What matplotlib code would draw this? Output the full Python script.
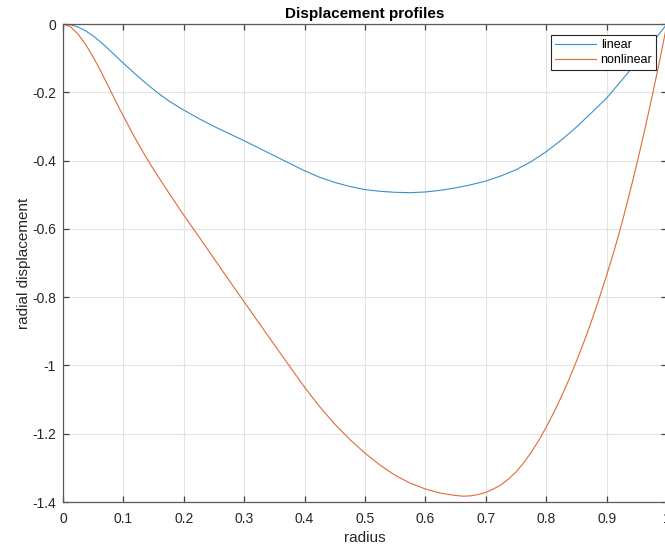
import numpy as np
import matplotlib
matplotlib.use("Agg")
import matplotlib.pyplot as plt

plt.rcParams['font.family'] = ['Liberation Sans', 'DejaVu Sans']

# radial positions (finer spacing where the profiles bend)
radius_lin = np.array([0.0, 0.0125, 0.025, 0.0375, 0.05, 0.0625, 0.075, 0.0875, 0.1, 0.1125,
                       0.125, 0.1375, 0.15, 0.1625, 0.175, 0.1875, 0.2, 0.225, 0.25, 0.275,
                       0.3, 0.325, 0.35, 0.375, 0.4, 0.425, 0.45, 0.475, 0.5, 0.525,
                       0.55, 0.575, 0.6, 0.625, 0.65, 0.675, 0.7, 0.725, 0.75, 0.775,
                       0.8, 0.825, 0.85, 0.875, 0.9, 0.925, 0.95, 0.975, 1.0])

disp_linear = np.array([0.0, -0.002, -0.009, -0.020, -0.035, -0.053, -0.073, -0.094, -0.115, -0.135,
                        -0.155, -0.174, -0.192, -0.209, -0.225, -0.239, -0.252, -0.277, -0.300, -0.321,
                        -0.342, -0.364, -0.386, -0.408, -0.430, -0.449, -0.464, -0.476, -0.485, -0.490,
                        -0.493, -0.494, -0.492, -0.487, -0.480, -0.471, -0.460, -0.445, -0.427, -0.403,
                        -0.374, -0.340, -0.302, -0.260, -0.217, -0.165, -0.111, -0.056, 0.0])

radius_nl = np.array([0.0, 0.0125, 0.025, 0.0375, 0.05, 0.0625, 0.075, 0.0875, 0.1, 0.1125,
                      0.125, 0.1375, 0.15, 0.1625, 0.175, 0.1875, 0.2, 0.225, 0.25, 0.275,
                      0.3, 0.325, 0.35, 0.375, 0.4, 0.425, 0.45, 0.475, 0.5, 0.525,
                      0.55, 0.575, 0.6, 0.625, 0.65, 0.6625, 0.675, 0.6875, 0.7, 0.7125,
                      0.725, 0.7375, 0.75, 0.7625, 0.775, 0.7875, 0.8, 0.8125, 0.825, 0.8375,
                      0.85, 0.8625, 0.875, 0.8875, 0.9, 0.9125, 0.925, 0.9375, 0.95, 0.9625,
                      0.975, 0.9875, 1.0])

disp_nonlinear = np.array([0.0, -0.008, -0.030, -0.060, -0.097, -0.138, -0.182, -0.227, -0.270, -0.312,
                           -0.352, -0.390, -0.426, -0.460, -0.494, -0.527, -0.560, -0.623, -0.687, -0.751,
                           -0.814, -0.877, -0.940, -1.002, -1.064, -1.121, -1.172, -1.217, -1.257, -1.292,
                           -1.322, -1.345, -1.362, -1.374, -1.381, -1.383, -1.382, -1.378, -1.372, -1.362,
                           -1.350, -1.333, -1.312, -1.286, -1.255, -1.220, -1.181, -1.138, -1.092, -1.042,
                           -0.988, -0.931, -0.870, -0.805, -0.736, -0.664, -0.585, -0.500, -0.410, -0.315,
                           -0.215, -0.110, 0.0])

xticks = [0, 0.1, 0.2, 0.3, 0.4, 0.5, 0.6, 0.7, 0.8, 0.9, 1]
xticklabels = ['0', '0.1', '0.2', '0.3', '0.4', '0.5', '0.6', '0.7', '0.8', '0.9', '1']
yticks = [-1.4, -1.2, -1, -0.8, -0.6, -0.4, -0.2, 0]
yticklabels = ['-1.4', '-1.2', '-1', '-0.8', '-0.6', '-0.4', '-0.2', '0']

fig = plt.figure(figsize=(6.65, 5.48), dpi=100)
ax = fig.add_axes([63 / 665, 46 / 548, 604 / 665, 478 / 548])

ax.plot(radius_lin, disp_linear, color='#3a8fcb', lw=0.8, label='linear')
ax.plot(radius_nl, disp_nonlinear, color='#e06a36', lw=0.8, label='nonlinear')

ax.set_xlim(0, 1)
ax.set_ylim(-1.4, 0)
ax.set_xticks(xticks)
ax.set_xticklabels(xticklabels)
ax.set_yticks(yticks)
ax.set_yticklabels(yticklabels)

ax.grid(True, color='#e3e3e3', lw=0.8)
ax.set_axisbelow(True)
for s in ax.spines.values():
    s.set_color('#5a5a5a')
    s.set_linewidth(0.9)
ax.tick_params(direction='in', length=4, width=0.9, color='#404040',
               labelsize=10, labelcolor='#262626', top=True, right=True)
ax.tick_params(axis='x', pad=7)
ax.tick_params(axis='y', pad=5)

ax.set_xlabel('radius', fontsize=11, color='#262626', labelpad=4)
ax.set_ylabel('radial displacement', fontsize=11, color='#262626', labelpad=1)
ax.set_title('Displacement profiles', fontsize=11, fontweight='bold', pad=4)

leg = ax.legend(loc='upper right', bbox_to_anchor=(0.982, 0.976), borderaxespad=0,
                fontsize=9, fancybox=False, framealpha=1, edgecolor='#262626',
                handlelength=3.3, handletextpad=0.35, borderpad=0.3, labelspacing=0.25)
leg.get_frame().set_linewidth(0.8)

fig.savefig('out.png', dpi=100)
